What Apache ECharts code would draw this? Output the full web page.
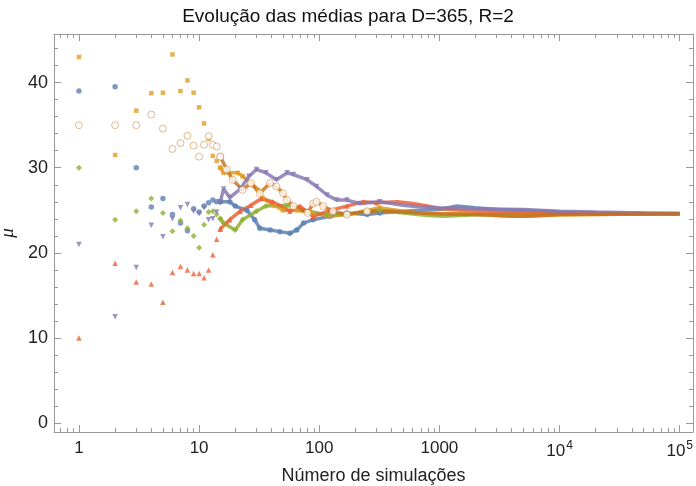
<!DOCTYPE html>
<html><head><meta charset="utf-8">
<script src="https://cdn.jsdelivr.net/npm/echarts@6/dist/echarts.min.js"></script>
<style>html,body{margin:0;padding:0;background:#fff}#c{width:696px;height:486px}</style>
</head><body><div id="c"></div>
<script>
// ---- data ----
const title = 'Evolução das médias para D=365, R=2';
const xName = 'Número de simulações';
const yName = 'μ';
const xTickExps = [0, 1, 2, 3, 4, 5];
const yTicks = [0, 10, 20, 30, 40];

// running means for n = 1..15 (one point per simulation)
const blueEarly   = [39, 39.5, 30, 25.4, 26.4, 24.5, 23.5, 22.6, 25.2, 24.8, 25.5, 25.9, 26.2, 26.0, 26.0];
const orangeEarly = [43, 31.5, 36.7, 38.75, 38.8, 43.3, 39.0, 40.25, 38.8, 37.1, 35.2, 33.4, 31.4, 30.8, 30.0];
const greenEarly  = [30, 23.9, 24.9, 26.4, 24.7, 22.55, 23.8, 22.9, 22.0, 20.6, 23.3, 24.8, 24.9, 24.5, 24.0];
const redEarly    = [10, 18.8, 16.6, 16.35, 14.2, 17.7, 18.4, 18.0, 17.6, 17.6, 17.1, 18.0, 19.8, 21.6, 22.8];
const purpleEarly = [21, 12.5, 18.3, 23.25, 21.9, 24.0, 25.3, 25.7, 24.9, 24.6, 25.3, 23.9, 24.0, 24.8, 26.0];
const brownEarly  = [35, 35, 35, 36.25, 34.6, 32.2, 32.9, 33.75, 32.6, 31.3, 32.7, 33.7, 32.7, 32.5, 31.3];

// later running means [n, mean]
const blueLate = [[15,26.0],[18,26.0],[20,25.5],[25,25.0],[29,23.9],[32,22.9],[39,22.7],[47,22.5],[57,22.3],[65,22.7],[74,23.5],[89,23.9],[123,24.3],[170,24.7],[250,24.5],[320,24.7],[500,24.9],[700,25.0],[1000,25.1],[1400,25.5],[2000,25.3],[3000,25.1],[5000,25.0],[10000,24.8],[20000,24.7],[50000,24.65],[100000,24.6]];
const orangeLate = [[15,30.0],[16,29.4],[21,29.4],[23,29.0],[27,28.2],[31,27.4],[34,26.4],[42,25.6],[50,25.0],[65,25.0],[89,24.7],[123,24.3],[170,24.5],[250,25.0],[318,25.3],[500,24.9],[800,24.6],[1500,24.6],[3000,24.4],[5000,24.3],[10000,24.45],[30000,24.55],[100000,24.6]];
const greenLate = [[15,24.0],[16,23.5],[20,22.7],[23,23.9],[30,24.9],[36,25.5],[54,25.6],[80,24.9],[116,24.5],[170,24.5],[250,24.9],[318,25.0],[500,24.7],[800,24.4],[1080,24.3],[1500,24.4],[3000,24.6],[10000,24.6],[100000,24.6]];
const redLate = [[15,22.8],[18,23.9],[22,24.9],[27,25.6],[33,26.4],[41,26.0],[57,24.9],[69,25.5],[89,24.3],[123,25.0],[170,25.5],[232,26.0],[300,25.9],[450,26.0],[600,25.8],[800,25.5],[1000,25.2],[2000,24.9],[5000,24.7],[10000,24.7],[50000,24.6],[100000,24.6]];
const purpleLate = [[15,26.0],[16,27.5],[18,26.5],[22,27.5],[26,29.0],[30,29.8],[36,29.4],[44,28.6],[54,29.4],[61,29.2],[79,28.6],[95,27.8],[116,26.8],[140,26.2],[170,26.2],[218,25.8],[318,26.0],[500,25.6],[700,25.4],[1000,25.3],[2000,25.2],[5000,25.1],[10000,24.9],[20000,24.8],[50000,24.7],[100000,24.65]];
const brownLate = [[15,31.3],[17,29.8],[19,28.6],[23,27.4],[27,28.2],[32,27.0],[39,28.2],[44,27.8],[50,27.0],[54,26.2],[61,25.5],[80,24.7],[89,25.8],[95,26.0],[108,25.5],[130,24.9],[170,24.5],[250,24.9],[400,24.9],[700,24.7],[1000,24.6],[2000,24.5],[4000,24.3],[6000,24.35],[10000,24.5],[30000,24.55],[100000,24.6]];

// ---- chart ----
const L = Math.log10;
const xMin = L(0.62), xMax = L(1.29e5);
const yMin = -1.02, yMax = 45.7;
const majorX = xTickExps.slice();
const minorX = [];
for (let d = -1; d <= 5; d++) for (let k = 2; k <= 9; k++) { const v = L(k * Math.pow(10, d)); if (v > xMin && v < xMax) minorX.push(v); }
const minorY = [];
for (let v = 0; v <= 44; v += 2) if (v % 10 !== 0) minorY.push(v);

const specs = [
  {name:'s1', early: blueEarly,   late: blueLate,   color:'#5E81B5', symbol:'circle',   size:5.5},
  {name:'s2', early: orangeEarly, late: orangeLate, color:'#E19C24', symbol:'rect',     size:4.5},
  {name:'s3', early: greenEarly,  late: greenLate,  color:'#8FB032', symbol:'diamond',  size:6},
  {name:'s4', early: redEarly,    late: redLate,    color:'#EB6235', symbol:'triangle', size:5.5},
  {name:'s5', early: purpleEarly, late: purpleLate, color:'#8778B3', symbol:'triangle', size:5.5, rot:180},
  {name:'s6', early: brownEarly,  late: brownLate,  color:'#C56E1A', symbol:'circle', size:7, empty:true}
];
const series = [];
specs.forEach(s => {
  series.push({
    type:'line', data: s.late.map(p => [L(p[0]), p[1]]), showSymbol:false, silent:true,
    lineStyle:{color:s.color, width:3.5, opacity: s.empty ? 0.8 : 0.85}, z:2
  });
  series.push({
    type:'scatter', data: s.early.map((v,i) => [L(i+1), v]).concat(s.late.filter(p=>p[0]<=320).map(p => [L(p[0]), p[1]])),
    symbol:s.symbol, symbolSize:s.size, symbolRotate:s.rot||0,
    itemStyle: s.empty ? {color:'#ffffff', borderColor:'rgba(197,110,26,0.6)', borderWidth:1} : {color:s.color},
    z:3
  });
});

const fmtX = v => { const e = Math.round(v); return e <= 3 ? String(Math.pow(10, e)) : '{b|10}{s|' + e + '}'; };
const axisCommon = {
  type:'value', min:xMin, max:xMax, splitLine:{show:false},
  axisLine:{show:true, onZero:false, lineStyle:{color:'#999', width:1}}
};
const labelStyle = {color:'#222', fontFamily:'Liberation Sans', fontSize:17};
const hiddenLine = {show:false, onZero:false};
const xAxis = [
  Object.assign({}, axisCommon, {position:'bottom',
    axisTick:{show:true, inside:true, length:7, lineStyle:{color:'#999'}, customValues:majorX},
    axisLabel:Object.assign({}, labelStyle, {customValues:majorX, margin:8, formatter:fmtX,
      rich:{b:{fontSize:17, fontFamily:'Liberation Sans', color:'#222', verticalAlign:'bottom', lineHeight:20},
            s:{fontSize:12, fontFamily:'Liberation Sans', color:'#222', verticalAlign:'top', lineHeight:20, padding:[0,0,10,1]}}}),
    name:xName, nameLocation:'middle', nameGap:25,
    nameTextStyle:{color:'#222', fontFamily:'Liberation Sans', fontSize:18}}),
  Object.assign({}, axisCommon, {position:'top',
    axisTick:{show:true, inside:true, length:7, lineStyle:{color:'#999'}, customValues:majorX},
    axisLabel:{show:false}}),
  Object.assign({}, axisCommon, {position:'bottom', axisLine:hiddenLine,
    axisTick:{show:true, inside:true, length:4, lineStyle:{color:'#999'}, customValues:minorX},
    axisLabel:{show:false}}),
  Object.assign({}, axisCommon, {position:'top', axisLine:hiddenLine,
    axisTick:{show:true, inside:true, length:4, lineStyle:{color:'#999'}, customValues:minorX},
    axisLabel:{show:false}})
];
const yCommon = {
  type:'value', min:yMin, max:yMax, splitLine:{show:false},
  axisLine:{show:true, onZero:false, lineStyle:{color:'#999', width:1}}
};
const yAxis = [
  Object.assign({}, yCommon, {position:'left',
    axisTick:{show:true, inside:true, length:7, lineStyle:{color:'#999'}, customValues:yTicks},
    axisLabel:Object.assign({}, labelStyle, {customValues:yTicks, margin:6, fontSize:18}),
    name:yName, nameLocation:'middle', nameGap:31, nameRotate:90,
    nameTextStyle:{color:'#222', fontFamily:'Liberation Serif', fontStyle:'italic', fontSize:19}}),
  Object.assign({}, yCommon, {position:'right',
    axisTick:{show:true, inside:true, length:7, lineStyle:{color:'#999'}, customValues:yTicks},
    axisLabel:{show:false}}),
  Object.assign({}, yCommon, {position:'left', axisLine:hiddenLine,
    axisTick:{show:true, inside:true, length:4, lineStyle:{color:'#999'}, customValues:minorY},
    axisLabel:{show:false}}),
  Object.assign({}, yCommon, {position:'right', axisLine:hiddenLine,
    axisTick:{show:true, inside:true, length:4, lineStyle:{color:'#999'}, customValues:minorY},
    axisLabel:{show:false}})
];

const chart = echarts.init(document.getElementById('c'), null, {renderer:'canvas'});
chart.setOption({
  animation:false,
  backgroundColor:'#fff',
  title:{text:title, left:'center', top:2, textStyle:{color:'#111', fontFamily:'Liberation Sans', fontWeight:'normal', fontSize:19}},
  grid:{left:54, right:3, top:34, bottom:54, outerBoundsMode:'none', containLabel:false},
  xAxis, yAxis, series
});
</script></body></html>
